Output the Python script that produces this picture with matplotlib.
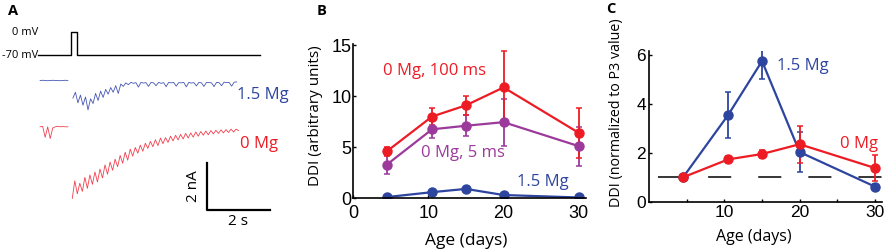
import numpy as np
import matplotlib
matplotlib.use("Agg")
import matplotlib.pyplot as plt

plt.rcParams['font.family'] = ['Open Sans', 'DejaVu Sans']

# colores
ROJO = '#ed1c24'
AZUL = '#2e45a0'
MORADO = '#9b3a9b'

# ---------------- datos panel A (trazas de corriente) ----------------
dt_muestra = 0.08          # s entre muestras leidas
pre_t0 = -0.98             # inicio de la linea base previa (s)
azul_pre = [0.0, 0.01, 0.0, -0.01, 0.0, 0.01, 0.0, 0.0, -0.01, 0.0, 0.01, 0.0]
rojo_pre = [0.0, 0.02, -0.45, 0.0, -0.50, -0.05, 0.0, 0.02, 0.0, 0.01, 0.0, 0.0]

azul_t0 = 0.06
azul_trazo = [-0.75, -0.50, -0.95, -0.62, -1.05, -0.70, -1.25, -0.78, -0.98, -0.55,
              -0.85, -0.45, -0.72, -0.38, -0.58, -0.30, -0.50, -0.22, -0.55, -0.15,
              -0.25, -0.10, -0.18, -0.08, -0.12, -0.09, -0.28, -0.08, -0.11, -0.09,
              -0.25, -0.08, -0.10, -0.22, -0.08, -0.12, -0.09, -0.26, -0.08, -0.10,
              -0.08, -0.24, -0.09, -0.10, -0.08, -0.27, -0.08, -0.11, -0.09, -0.23,
              -0.08, -0.10, -0.25, -0.08, -0.09, -0.10, -0.26, -0.08, -0.09, -0.22,
              -0.07, -0.09, -0.08, -0.24, -0.07, -0.06]

rojo_t0 = 0.04
rojo_trazo = [-3.05, -2.30, -2.85, -2.40, -2.75, -2.15, -2.62, -2.05, -2.45, -1.92,
              -2.35, -1.80, -2.18, -1.62, -2.02, -1.50, -1.85, -1.38, -1.70, -1.22,
              -1.55, -1.08, -1.42, -0.95, -1.25, -0.88, -1.12, -0.78, -1.04, -0.70,
              -0.92, -0.62, -0.85, -0.55, -0.80, -0.48, -0.72, -0.46, -0.66, -0.40,
              -0.60, -0.36, -0.56, -0.32, -0.52, -0.28, -0.48, -0.26, -0.44, -0.22,
              -0.40, -0.20, -0.36, -0.18, -0.34, -0.16, -0.30, -0.15, -0.28, -0.13,
              -0.26, -0.12, -0.24, -0.10, -0.22, -0.10, -0.16]

# pulso de voltaje (s, mV)
volt_t = [-1.05, 0.0, 0.0, 0.19, 0.19, 6.0]
volt_mv = [-70, -70, 0, 0, -70, -70]

# ---------------- datos paneles B y C ----------------
edad = [4.5, 10.5, 15, 20, 30]

b_rojo = [4.6, 8.0, 9.1, 10.85, 6.4]
b_rojo_err = [0.45, 0.85, 0.9, 3.55, 2.45]
b_morado = [3.3, 6.75, 7.1, 7.45, 5.1]
b_morado_err = [0.9, 0.85, 1.05, 2.3, 1.9]
b_azul = [0.12, 0.6, 0.92, 0.32, 0.08]
b_azul_err = [0.08, 0.1, 0.12, 0.1, 0.05]

c_azul = [1.0, 3.55, 5.75, 2.03, 0.62]
c_azul_err = [0.1, 0.95, 0.72, 0.8, 0.1]
c_rojo = [1.0, 1.73, 1.95, 2.35, 1.38]
c_rojo_err = [0.08, 0.15, 0.15, 0.75, 0.55]
nivel_ref = 1.0

fig = plt.figure(figsize=(8.86, 2.52), dpi=100)

# ---------------- Panel A ----------------
axA = fig.add_axes([0, 0, 300 / 886, 1])
axA.set_xlim(-2.254, 7.270)
axA.set_ylim(-7.298, 3.426)
axA.axis('off')

off_azul = 0.0
off_rojo = -1.97
v_hold = 1.085
v_escala = 0.979 / 70.0

vt = np.array(volt_t)
vv = v_hold + (np.array(volt_mv) + 70) * v_escala
axA.plot(vt, vv, color='black', lw=1.0)
axA.text(-1.05, v_hold + 70 * v_escala, '0 mV', ha='right', va='center', fontsize=8)
axA.text(-1.05, v_hold, '-70 mV', ha='right', va='center', fontsize=8)

t_pre = pre_t0 + dt_muestra * np.arange(len(azul_pre))
t_azul = azul_t0 + dt_muestra * np.arange(len(azul_trazo))
t_rojo = rojo_t0 + dt_muestra * np.arange(len(rojo_trazo))

axA.plot(t_pre, np.array(azul_pre) + off_azul, color='#4656b4', lw=0.6)
axA.plot(t_azul, np.array(azul_trazo) + off_azul, color='#4656b4', lw=0.6)
axA.plot(t_pre, np.array(rojo_pre) + off_rojo, color='#f2404e', lw=0.6)
axA.plot(t_rojo, np.array(rojo_trazo) + off_rojo, color='#f2404e', lw=0.6)

axA.text(5.27, off_azul - 0.6, '1.5 Mg', color=AZUL, fontsize=12, ha='left', va='center')
axA.text(5.37, off_rojo - 0.73, '0 Mg', color=ROJO, fontsize=12, ha='left', va='center')

# barra de escala: 2 s, 2 nA
x0, y0 = 4.317, -5.511
axA.plot([x0, x0, x0 + 2], [y0 + 2, y0, y0], color='black', lw=1.6)
axA.text(x0 - 0.42, y0 + 1, '2 nA', rotation=90, ha='center', va='center', fontsize=11)
axA.text(x0 + 1, y0 - 0.15, '2 s', ha='center', va='top', fontsize=11)

# ---------------- Panel B ----------------
axB = fig.add_axes([353 / 886, (252 - 198.3) / 252, 233.4 / 886, 154.3 / 252])
kw = dict(marker='o', ms=6.5, lw=1.6, capsize=2, elinewidth=1.3, capthick=1.1)
axB.errorbar(edad, b_azul, yerr=b_azul_err, color=AZUL, **kw)
axB.errorbar(edad, b_morado, yerr=b_morado_err, color=MORADO, **kw)
axB.errorbar(edad, b_rojo, yerr=b_rojo_err, color=ROJO, **kw)
axB.set_xlim(0, 31)
axB.set_ylim(0, 15.1)
axB.set_xticks([0, 10, 20, 30])
axB.set_yticks([0, 5, 10, 15])
axB.text(4.0, 12.5, '0 Mg, 100 ms', color=ROJO, fontsize=12, va='center')
axB.text(9.0, 4.4, '0 Mg, 5 ms', color=MORADO, fontsize=12, va='center')
axB.text(21.8, 1.55, '1.5 Mg', color=AZUL, fontsize=12, va='center')
axB.set_xlabel('Age (days)', fontsize=12.5)
axB.set_ylabel('DDI (arbitrary units)', fontsize=11)
axB.xaxis.set_label_coords(0.487, -0.225)
axB.yaxis.set_label_coords(-0.128, 0.533)

# ---------------- Panel C ----------------
axC = fig.add_axes([649.3 / 886, (252 - 201.7) / 252, 233 / 886, 150.4 / 252])
axC.axhline(nivel_ref, xmin=1.2 / 31, xmax=1.0, color='black', lw=1.1, dashes=(15.1, 17.7))
kwc = dict(marker='o', ms=6.5, lw=1.6, capsize=2, elinewidth=1.3, capthick=1.1)
axC.errorbar(edad, c_azul, yerr=c_azul_err, color=AZUL, **kwc)
axC.errorbar(edad, c_rojo, yerr=c_rojo_err, color=ROJO, **kwc)
axC.set_xlim(0, 31)
axC.set_ylim(0, 6.15)
axC.set_xticks([5, 10, 15, 20, 25, 30])
axC.set_xticklabels(['', '10', '', '20', '', '30'])
axC.set_yticks([0, 2, 4, 6])
axC.text(17.0, 5.55, '1.5 Mg', color=AZUL, fontsize=12, va='center')
axC.text(25.4, 2.35, '0 Mg', color=ROJO, fontsize=12, va='center')
axC.set_xlabel('Age (days)', fontsize=11.5)
axC.set_ylabel('DDI (normalized to P3 value)', fontsize=10.3)
axC.xaxis.set_label_coords(0.45, -0.182)
axC.yaxis.set_label_coords(-0.107, 0.595)

for ax in (axB, axC):
    for s in ('top', 'right'):
        ax.spines[s].set_visible(False)
    for s in ('left', 'bottom'):
        ax.spines[s].set_linewidth(1.2)
    ax.tick_params(direction='in', length=2.5, width=1, pad=1, labelsize=13)
    for lab in ax.get_xticklabels() + ax.get_yticklabels():
        lab.set_family('Liberation Sans')
axB.tick_params(axis='x', pad=5)
axC.tick_params(axis='x', pad=2.5)
axC.tick_params(axis='y', pad=2.5, labelsize=12.5)
axC.tick_params(axis='x', labelsize=12.5)

# letras de panel
fig.text(8 / 886, 1 - 15 / 252, 'A', fontsize=10.5, fontweight='bold')
fig.text(317 / 886, 1 - 15 / 252, 'B', fontsize=10.5, fontweight='bold')
fig.text(606 / 886, 1 - 13 / 252, 'C', fontsize=10.5, fontweight='bold')

fig.savefig('out.png', dpi=100)
